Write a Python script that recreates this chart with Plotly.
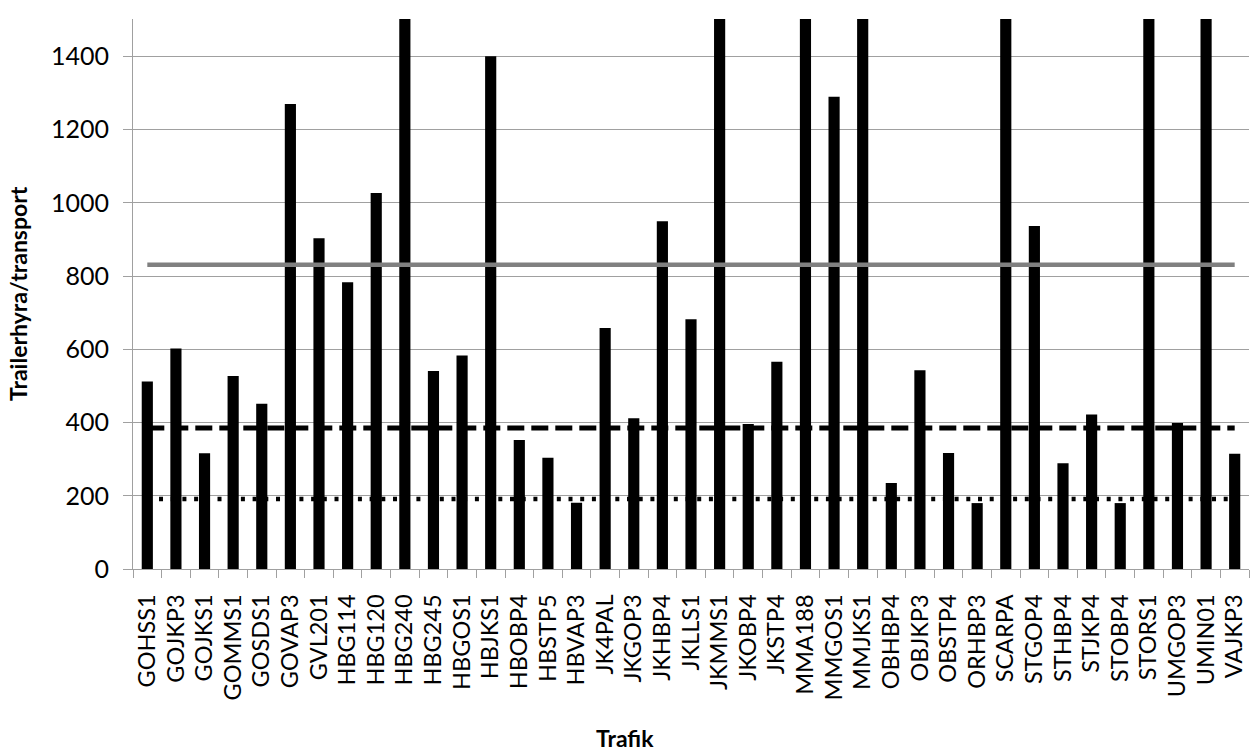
import plotly.graph_objects as go

# Trafik codes and trailer hire per transport
trafik = [
    "GOHSS1", "GOJKP3", "GOJKS1", "GOMMS1", "GOSDS1", "GOVAP3", "GVL201",
    "HBG114", "HBG120", "HBG240", "HBG245", "HBGOS1", "HBJKS1", "HBOBP4",
    "HBSTP5", "HBVAP3", "JK4PAL", "JKGOP3", "JKHBP4", "JKLLS1", "JKMMS1",
    "JKOBP4", "JKSTP4", "MMA188", "MMGOS1", "MMJKS1", "OBHBP4", "OBJKP3",
    "OBSTP4", "ORHBP3", "SCARPA", "STGOP4", "STHBP4", "STJKP4", "STOBP4",
    "STORS1", "UMGOP3", "UMIN01", "VAJKP3",
]
trailerhyra = [
    512, 602, 316, 527, 451, 1270, 903,
    783, 1027, 1650, 541, 583, 1400, 352,
    304, 181, 658, 412, 950, 682, 2100,
    396, 566, 1900, 1290, 1700, 235, 543,
    317, 180, 2400, 937, 289, 422, 180,
    3000, 399, 1800, 315,
]

# Reference levels
niva_hog = 831
niva_mellan = 385
niva_lag = 191

y_ticks = [0, 200, 400, 600, 800, 1000, 1200, 1400]

FONT = "Lato, 'Open Sans', sans-serif"
GRID = "#a0a0a0"

fig = go.Figure()

fig.add_trace(go.Bar(
    x=trafik, y=trailerhyra,
    marker=dict(color="black", line=dict(width=0)),
    showlegend=False,
))

x_span = [trafik[0], trafik[-1]]
fig.add_trace(go.Scatter(
    x=x_span, y=[niva_hog, niva_hog], mode="lines",
    line=dict(color="#808080", width=4.5),
    showlegend=False,
))
fig.add_trace(go.Scatter(
    x=x_span, y=[niva_mellan, niva_mellan], mode="lines",
    line=dict(color="black", width=5, dash="17px,7px"),
    showlegend=False,
))
fig.add_trace(go.Scatter(
    x=x_span, y=[niva_lag, niva_lag], mode="lines",
    line=dict(color="black", width=4.5, dash="4px,7.7px"),
    showlegend=False,
))

fig.update_layout(
    width=1250, height=754,
    margin=dict(l=133, r=1, t=19, b=185),
    paper_bgcolor="white", plot_bgcolor="white",
    bargap=0.61,
    font=dict(family=FONT, size=23.5, color="black"),
)

fig.update_xaxes(
    type="category",
    tickmode="array", tickvals=trafik, ticktext=trafik,
    tickangle=-90,
    tickson="boundaries",
    ticks="outside", ticklen=8, tickcolor=GRID, tickwidth=1,
    showgrid=False,
    showline=True, linecolor=GRID, linewidth=1,
    tickfont=dict(family=FONT, size=23.5),
    ticklabelstandoff=15,
)
fig.update_yaxes(
    range=[0, 1502],
    tickvals=y_ticks,
    ticks="outside", ticklen=9, tickcolor=GRID, tickwidth=1,
    showgrid=True, gridcolor=GRID, gridwidth=1,
    showline=True, linecolor=GRID, linewidth=1,
    zeroline=False,
    tickfont=dict(family=FONT, size=25),
    ticklabelstandoff=9,
)

fig.add_annotation(
    text="<b>Trailerhyra/transport</b>",
    xref="paper", yref="paper",
    x=-115 / 1116, y=0.5, xanchor="center", yanchor="middle",
    textangle=-90, showarrow=False,
    font=dict(family=FONT, size=23, color="black"),
)
fig.add_annotation(
    text="<b>Trafik</b>",
    xref="paper", yref="paper",
    x=(625 - 133) / 1116, y=-169 / 550, xanchor="center", yanchor="middle",
    showarrow=False,
    font=dict(family=FONT, size=23, color="black"),
)

fig.write_html("out.html")
